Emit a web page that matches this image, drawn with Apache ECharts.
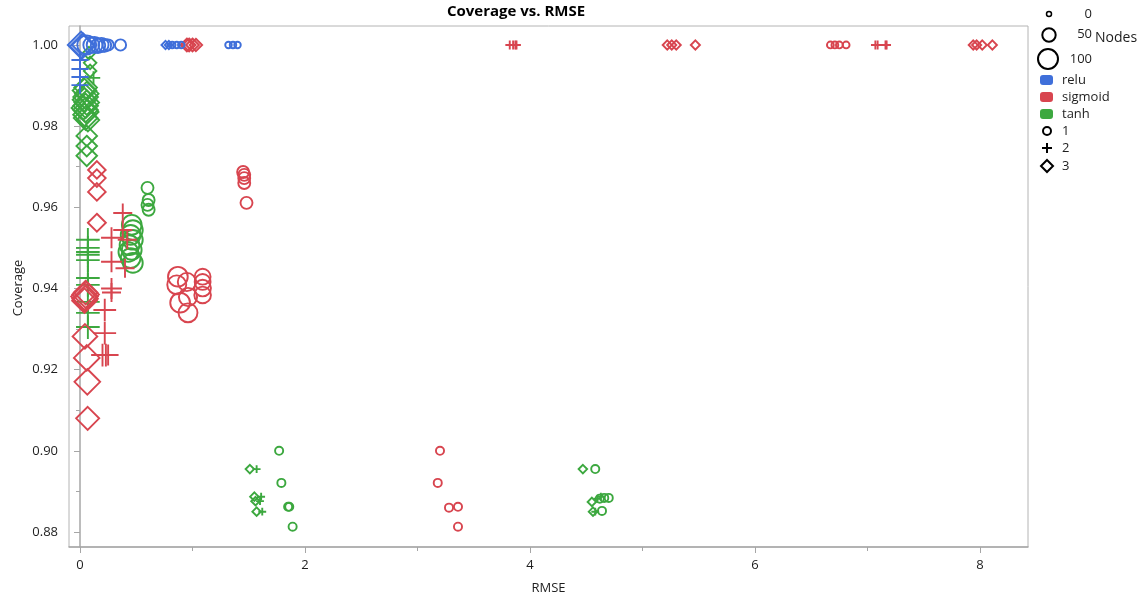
<!DOCTYPE html>
<html>
<head>
<meta charset="utf-8">
<script src="https://cdn.jsdelivr.net/npm/echarts@6/dist/echarts.min.js"></script>
<style>
  html, body { margin: 0; padding: 0; background: #fff; }
  #chart { width: 1140px; height: 598px; }
</style>
</head>
<body>
<div id="chart"></div>
<script>
// Each entry: [RMSE, Coverage, Nodes]; arrays are split by activation and hidden layers.
const reluL1 = [
  [0.06, 1.0, 90], [0.10, 1.0, 70], [0.13, 1.0, 70], [0.16, 0.9998, 60], [0.19, 1.0, 60],
  [0.22, 0.9999, 50], [0.25, 1.0, 40], [0.36, 1.0, 40],
  [0.82, 1.0, 10], [0.86, 1.0, 10], [0.90, 1.0, 10],
  [1.32, 1.0, 10], [1.36, 1.0, 10], [1.40, 1.0, 10]
];
const reluL2 = [
  [0.0, 0.9963, 60], [0.0, 0.9941, 60], [0.0, 0.9921, 60], [0.0, 0.9901, 60],
  [0.80, 1.0, 5]
];
const reluL3 = [
  [0.01, 1.0, 100], [0.02, 0.9997, 90], [0.03, 1.0, 80],
  [0.76, 1.0, 8], [0.79, 1.0, 8]
];
const sigmoidL1 = [
  [0.87, 0.9429, 95], [0.86, 0.9409, 90], [0.95, 0.9416, 85], [0.89, 0.9365, 95],
  [0.96, 0.9379, 85], [0.96, 0.9340, 90], [1.09, 0.9429, 70], [1.09, 0.9416, 70],
  [1.09, 0.9401, 75], [1.09, 0.9384, 75],
  [1.45, 0.9687, 45], [1.46, 0.9680, 45], [1.46, 0.9672, 45], [1.46, 0.9660, 45], [1.48, 0.9611, 45],
  [3.20, 0.9000, 20], [3.18, 0.8921, 20], [3.28, 0.8860, 20], [3.36, 0.8862, 20], [3.36, 0.8813, 20],
  [6.67, 1.0, 12], [6.71, 1.0, 12], [6.75, 1.0, 12], [6.81, 1.0, 12]
];
const sigmoidL2 = [
  [0.38, 0.9586, 70], [0.38, 0.9544, 70], [0.28, 0.9525, 80], [0.42, 0.9520, 70],
  [0.28, 0.9466, 80], [0.40, 0.9450, 70], [0.28, 0.9400, 80], [0.28, 0.9390, 70],
  [0.22, 0.9347, 90], [0.22, 0.9290, 90], [0.20, 0.9236, 90], [0.23, 0.9236, 90], [0.25, 0.9236, 80],
  [3.82, 1.0, 15], [3.85, 1.0, 15], [3.87, 1.0, 15], [3.88, 1.0, 15],
  [7.07, 1.0, 15], [7.09, 1.0, 15], [7.16, 1.0, 15], [7.17, 1.0, 15]
];
const sigmoidL3 = [
  [0.15, 0.9692, 55], [0.15, 0.9672, 55], [0.15, 0.9638, 55], [0.15, 0.9562, 57],
  [0.04, 0.9380, 100], [0.045, 0.9375, 95], [0.05, 0.9385, 100], [0.04, 0.9370, 90], [0.05, 0.9390, 85],
  [0.044, 0.9282, 90], [0.06, 0.9229, 95], [0.065, 0.9170, 95], [0.068, 0.9080, 82],
  [0.95, 1.0, 32], [0.97, 1.0, 32], [1.00, 1.0, 32], [1.03, 1.0, 30],
  [5.22, 1.0, 13], [5.26, 1.0, 13], [5.30, 1.0, 13], [5.47, 1.0, 13],
  [7.94, 1.0, 13], [7.97, 1.0, 13], [8.02, 1.0, 13], [8.11, 1.0, 13]
];
const tanhL1 = [
  [0.60, 0.9648, 45], [0.61, 0.9618, 45], [0.60, 0.9606, 45], [0.61, 0.9594, 45],
  [0.46, 0.9557, 95], [0.47, 0.9544, 95], [0.45, 0.9532, 95], [0.47, 0.9520, 95], [0.44, 0.9507, 95],
  [0.46, 0.9495, 95], [0.43, 0.9490, 95], [0.45, 0.9475, 95], [0.47, 0.9463, 95],
  [1.77, 0.9000, 20], [1.79, 0.8921, 20], [1.85, 0.8862, 20], [1.86, 0.8862, 20], [1.89, 0.8813, 20],
  [4.58, 0.8955, 20], [4.62, 0.8882, 20], [4.66, 0.8884, 20], [4.70, 0.8884, 20], [4.64, 0.8852, 20]
];
const tanhL2 = [
  [0.12, 0.9919, 40],
  [0.07, 0.9520, 95], [0.07, 0.9500, 95], [0.07, 0.9490, 95], [0.07, 0.9483, 95], [0.07, 0.9470, 95],
  [0.07, 0.9426, 95], [0.07, 0.9409, 95], [0.07, 0.9367, 95], [0.07, 0.9340, 95], [0.07, 0.9305, 95],
  [1.57, 0.8955, 10], [1.61, 0.8887, 10], [1.60, 0.8876, 10], [1.62, 0.8850, 10],
  [4.60, 0.8882, 10], [4.63, 0.8887, 10], [4.58, 0.8850, 10]
];
const tanhL3 = [
  [0.08, 0.9980, 30], [0.09, 0.9956, 30], [0.09, 0.9936, 30],
  [0.05, 0.9895, 80], [0.04, 0.9888, 85], [0.06, 0.9880, 85], [0.05, 0.9872, 90], [0.04, 0.9865, 85],
  [0.06, 0.9858, 90], [0.05, 0.9850, 90], [0.03, 0.9845, 85], [0.05, 0.9840, 90], [0.06, 0.9835, 85],
  [0.04, 0.9828, 80], [0.05, 0.9820, 85], [0.07, 0.9815, 80],
  [0.06, 0.9776, 70], [0.06, 0.9751, 70], [0.06, 0.9727, 70],
  [1.51, 0.8955, 10], [1.55, 0.8887, 10], [1.56, 0.8876, 10], [1.57, 0.8850, 10],
  [4.47, 0.8955, 10], [4.55, 0.8874, 10], [4.56, 0.8850, 10]
];

const xMajorTicks = [0, 2, 4, 6, 8];
const xMinorTicks = [1, 3, 5, 7];
const yMajorTicks = [0.88, 0.90, 0.92, 0.94, 0.96, 0.98, 1.00];
const yMinorTicks = [0.89, 0.91, 0.93, 0.95, 0.97, 0.99];

const COLORS = { relu: '#3F6FDA', sigmoid: '#D8454F', tanh: '#3CA83F' };
const FONT = '"Open Sans", "Noto Sans", sans-serif';
const PLUS = 'path://M0,5L10,5M5,0L5,10';
const SHAPES = { 1: 'circle', 2: PLUS, 3: 'diamond' };
const SHAPE_SCALE = { 1: 1.0, 2: 1.2, 3: 1.3 };

function nodeSize(n) { return 5 + 0.155 * n; }

function withLayers(arr, layers) {
  return arr.map(p => [p[0], p[1], layers, p[2]]);
}

function makeSeries(name, groups) {
  const data = [].concat(...groups.map(g => withLayers(g[0], g[1])));
  return {
    name: name,
    type: 'scatter',
    data: data,
    symbol: v => SHAPES[v[2]],
    symbolSize: v => nodeSize(v[3]) * SHAPE_SCALE[v[2]],
    itemStyle: { color: 'rgba(0,0,0,0)', borderColor: COLORS[name], borderWidth: 1.9, opacity: 1 },
    emphasis: { disabled: true },
    animation: false
  };
}

const tickColor = '#A6A6A6';
const labelStyle = { fontFamily: FONT, fontSize: 13, color: '#1E1E1E' };

const overlay = [];
function lgText(text, x, y, align, size) {
  overlay.push({ type: 'text', x: x, y: y,
    style: { text: text, fill: '#1E1E1E', font: (size || 13) + 'px ' + FONT,
             textAlign: align || 'left', textVerticalAlign: 'middle' } });
}
// node-size key
overlay.push({ type: 'circle', shape: { cx: 1049, cy: 14, r: 2.5 }, style: { fill: 'none', stroke: '#000', lineWidth: 1.5 } });
overlay.push({ type: 'circle', shape: { cx: 1049, cy: 35, r: 6.7 }, style: { fill: 'none', stroke: '#000', lineWidth: 2 } });
overlay.push({ type: 'circle', shape: { cx: 1048, cy: 59, r: 10 }, style: { fill: 'none', stroke: '#000', lineWidth: 2 } });
lgText('0', 1092, 14, 'right');
lgText('50', 1092, 34, 'right');
lgText('Nodes', 1095, 38, 'left', 14);
lgText('100', 1092, 59, 'right');
// activation key
[['relu', 80], ['sigmoid', 97], ['tanh', 114]].forEach(([name, y]) => {
  overlay.push({ type: 'rect', shape: { x: 1040, y: y - 5, width: 13, height: 10, r: 3 }, style: { fill: COLORS[name] } });
  lgText(name, 1062, y);
});
// layers key
overlay.push({ type: 'circle', shape: { cx: 1047, cy: 131, r: 4 }, style: { fill: 'none', stroke: '#000', lineWidth: 2 } });
overlay.push({ type: 'polyline', shape: { points: [[1042, 148], [1052, 148]] }, style: { stroke: '#000', lineWidth: 2 } });
overlay.push({ type: 'polyline', shape: { points: [[1047, 143], [1047, 153]] }, style: { stroke: '#000', lineWidth: 2 } });
overlay.push({ type: 'polygon', shape: { points: [[1047, 160], [1053, 166], [1047, 172], [1041, 166]] }, style: { fill: 'none', stroke: '#000', lineWidth: 2 } });
lgText('1', 1062, 131);
lgText('2', 1062, 148);
lgText('3', 1062, 166);
// chart title
overlay.push({ type: 'text', x: 516, y: 12,
  style: { text: 'Coverage vs. RMSE', fill: '#000', font: 'bold 15px ' + FONT, textAlign: 'center', textVerticalAlign: 'middle' } });
// y-axis title
overlay.push({ type: 'text', x: 18, y: 288, rotation: Math.PI / 2,
  style: { text: 'Coverage', fill: '#1E1E1E', font: '13px ' + FONT, textAlign: 'center', textVerticalAlign: 'middle' } });

const X_MIN = -0.0978, X_MAX = 8.4267;
const Y_MIN = 0.8763, Y_MAX = 1.00468;

const option = {
  backgroundColor: '#fff',
  animation: false,
  grid: {
    left: 69, right: 112, top: 26, bottom: 51,
    outerBoundsMode: 'none', containLabel: false,
    show: true, borderColor: '#B4B4B4', borderWidth: 1
  },
  xAxis: [
    {
      type: 'value', min: X_MIN, max: X_MAX, position: 'bottom',
      name: 'RMSE', nameLocation: 'middle', nameGap: 35,
      nameTextStyle: { fontFamily: FONT, fontSize: 13, color: '#1E1E1E' },
      axisLine: { show: true, lineStyle: { color: tickColor, width: 1.5 } },
      axisTick: { show: true, customValues: xMajorTicks, length: 6, lineStyle: { color: tickColor, width: 1 } },
      axisLabel: Object.assign({ customValues: xMajorTicks, margin: 12, formatter: v => String(v) }, labelStyle),
      splitLine: { show: false }
    },
    {
      type: 'value', min: X_MIN, max: X_MAX, position: 'bottom',
      axisLine: { show: false },
      axisTick: { show: true, customValues: xMinorTicks, length: 4, lineStyle: { color: tickColor, width: 1 } },
      axisLabel: { show: false },
      splitLine: { show: false }
    }
  ],
  yAxis: [
    {
      type: 'value', min: Y_MIN, max: Y_MAX, position: 'left',
      axisLine: { show: true, lineStyle: { color: tickColor, width: 1.5 } },
      axisTick: { show: true, customValues: yMajorTicks, length: 6, lineStyle: { color: tickColor, width: 1 } },
      axisLabel: Object.assign({ customValues: yMajorTicks, margin: 11, formatter: v => v.toFixed(2) }, labelStyle),
      splitLine: { show: false }
    },
    {
      type: 'value', min: Y_MIN, max: Y_MAX, position: 'left',
      axisLine: { show: false },
      axisTick: { show: true, customValues: yMinorTicks, length: 4, lineStyle: { color: tickColor, width: 1 } },
      axisLabel: { show: false },
      splitLine: { show: false }
    }
  ],
  series: [
    makeSeries('tanh', [[tanhL1, 1], [tanhL2, 2], [tanhL3, 3]]),
    makeSeries('sigmoid', [[sigmoidL1, 1], [sigmoidL2, 2], [sigmoidL3, 3]]),
    makeSeries('relu', [[reluL1, 1], [reluL2, 2], [reluL3, 3]])
  ],
  graphic: overlay
};

const chart = echarts.init(document.getElementById('chart'), null, { renderer: 'canvas' });
chart.setOption(option);
</script>
</body>
</html>
